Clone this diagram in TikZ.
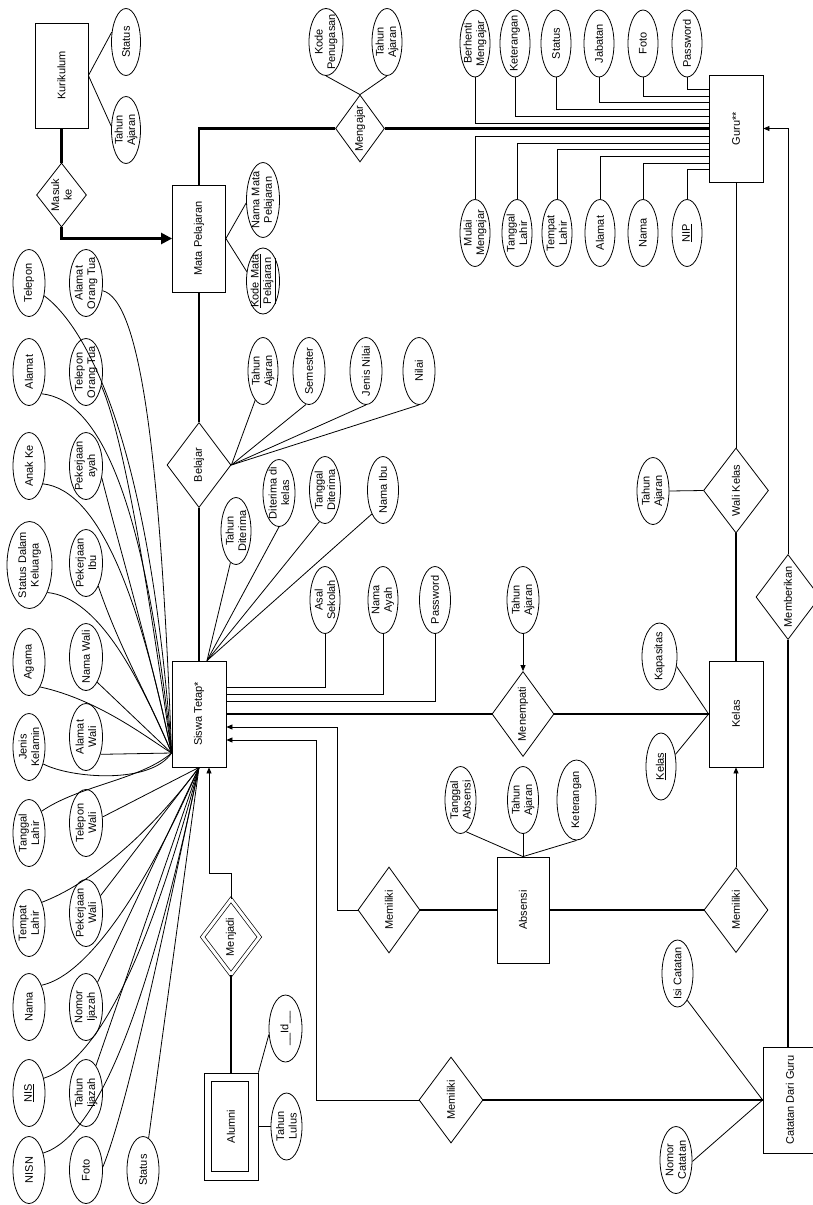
\documentclass[tikz,border=0pt]{standalone}
\usepackage{fontspec}
\newfontfamily\diafont{Liberation Sans}
\usetikzlibrary{shapes.geometric,arrows.meta}
\newcommand\mkatt[4][]{\node[attr,#1] (#2) at (#3) {}; \node[lbl] (#2-t) at (#2.center) {#4};}
\newcommand\mkent[4][]{\node[ent,#1] (#2) at (#3) {}; \node[lbl] (#2-t) at (#2.center) {#4};}
\newcommand\mkrel[4][]{\node[rel,#1] (#2) at (#3) {}; \node[lbl] (#2-t) at (#2.center) {#4};}
\begin{document}
\begin{tikzpicture}[x=1pt,y=-1pt,
  ln/.style={line width=0.8pt},
  thk/.style={line width=2.4pt},
  arr/.style={ln,-{Triangle[length=6pt,width=5pt]}},
  attr/.style={ellipse,draw,line width=0.8pt,minimum width=31pt,minimum height=67pt,inner sep=0pt},
  ent/.style={rectangle,draw,line width=0.8pt,minimum width=54pt,minimum height=106pt,inner sep=0pt},
  rel/.style={diamond,draw,line width=0.8pt,minimum width=64pt,minimum height=85pt,inner sep=0pt},
  lbl/.style={rotate=90,align=center,inner sep=0pt,font=\diafont\fontsize{11}{12.5}\selectfont}]
\fill[white] (0,0) rectangle (812,1205);
\useasboundingbox (0,0) rectangle (812,1205);

% ---------- Kurikulum ----------
\mkent[minimum width=53pt,minimum height=105pt]{kur}{61.5,75.5}{Kurikulum}
\mkatt[minimum width=29pt]{kstat}{126,42}{Status}
\mkatt[minimum width=29pt]{ktah}{126,130}{Tahun\\Ajaran}
\mkrel[minimum width=50pt,minimum height=64pt]{masuk}{61.5,195}{Masuk\\ke}
\mkent[minimum width=53pt,minimum height=107pt]{mapel}{199,238.5}{Mata Pelajaran}
\mkatt[minimum width=33pt,minimum height=75pt]{nmp}{263,200}{Nama Mata\\Pelajaran}
\mkatt[minimum width=33pt,minimum height=66pt]{kmp}{263,281}{\underline{Kode Mata}\\\underline{Pelajaran}}

\draw[ln] (kur.east) -- (kstat.145);
\draw[ln] (kur.east) -- (ktah.165);
\draw[thk] (kur.south) -- (masuk.north);
\draw[thk,-{Triangle[length=11pt,width=11pt]}] (masuk.south) |- (mapel.west);
\draw[ln] (mapel.east) -- (nmp.190);
\draw[ln] (mapel.east) -- (kmp.150);

% ---------- Mengajar / Guru ----------
\mkrel[minimum width=49pt,minimum height=67pt]{mengajar}{360,128.5}{Mengajar}
\mkatt[minimum width=34pt]{kodep}{326,42}{Kode\\Penugasan}
\mkatt[minimum width=30pt]{mtah}{387,42}{Tahun\\Ajaran}
\mkent[minimum height=107pt]{guru}{736,128.5}{Guru**}

\draw[thk] (mapel.north) |- (mengajar.west);
\draw[thk] (mengajar.east) -- (guru.west);
\draw[ln] (mengajar.north) -- (kodep.south);
\draw[ln] (mengajar.north) -- (mtah.south);

\mkatt[minimum width=30pt]{g1}{475,43.5}{Berhenti\\Mengajar}
\mkatt[minimum width=30pt]{g2}{515,43.5}{Keterangan}
\mkatt[minimum width=30pt]{g3}{556,43.5}{Status}
\mkatt[minimum width=30pt]{g4}{599,43.5}{Jabatan}
\mkatt[minimum width=30pt]{g5}{643,43.5}{Foto}
\mkatt[minimum width=30pt]{g6}{687,43.5}{Password}
\mkatt[minimum width=30pt]{g7}{475,233}{Mulai\\Mengajar}
\mkatt[minimum width=30pt]{g8}{517,233}{Tanggal\\Lahir}
\mkatt[minimum width=30pt]{g9}{557,233}{Tempat\\Lahir}
\mkatt[minimum width=30pt]{g10}{600,233}{Alamat}
\mkatt[minimum width=30pt]{g11}{643,233}{Nama}
\mkatt[minimum width=30pt]{g12}{687,233}{\underline{NIP}}

\draw[ln] (g1.south) |- ([yshift=5.5pt]guru.west);
\draw[ln] (g2.south) |- ([yshift=12.5pt]guru.west);
\draw[ln] (g3.south) |- ([yshift=19.5pt]guru.west);
\draw[ln] (g4.south) |- ([yshift=26.5pt]guru.west);
\draw[ln] (g5.south) |- ([yshift=32.5pt]guru.west);
\draw[ln] (g6.south) |- ([yshift=39.5pt]guru.west);
\draw[ln] (g7.north) |- ([yshift=-7.5pt]guru.west);
\draw[ln] (g8.north) |- ([yshift=-14.5pt]guru.west);
\draw[ln] (g9.north) |- ([yshift=-20.5pt]guru.west);
\draw[ln] (g10.north) |- ([yshift=-27.5pt]guru.west);
\draw[ln] (g11.north) |- ([yshift=-34.5pt]guru.west);
\draw[ln] (g12.north) |- ([yshift=-40.5pt]guru.west);

% ---------- Belajar ----------
\mkrel{belajar}{199,465}{Belajar}
\mkatt[minimum width=30pt]{btah}{263,371}{Tahun\\Ajaran}
\mkatt[minimum width=32pt]{bsem}{309,371}{Semester}
\mkatt[minimum width=32pt]{bjn}{366,371}{Jenis Nilai}
\mkatt[minimum width=32pt]{bnil}{419,371}{Nilai}
\draw[thk] (mapel.south) -- (belajar.north);
\draw[ln] (belajar.east) -- (btah.-105);
\draw[ln] (belajar.east) -- (bsem.-95);
\draw[ln] (belajar.east) -- (bjn.south);
\draw[ln] (belajar.east) -- (bnil.south);

% ---------- Siswa Tetap ----------
\mkent{siswa}{199,714}{Siswa Tetap*}
\draw[thk] (belajar.south) -- (siswa.north);
\mkatt[minimum width=30pt]{sthd}{236,531}{Tahun\\Diterima}
\mkatt[minimum width=32pt]{sddk}{279,493}{Diterima di\\kelas}
\mkatt[minimum width=31pt]{stgd}{325,490}{Tanggal\\Diterima}
\mkatt[minimum width=31pt]{snib}{383,490}{Nama Ibu}
\draw[ln] ([xshift=8pt]siswa.north) -- (sthd.-100);
\draw[ln] ([xshift=8pt]siswa.north) -- (sddk.south);
\draw[ln] ([xshift=8pt]siswa.north) -- (stgd.-100);
\draw[ln] ([xshift=8pt]siswa.north) -- (snib.-115);

\mkatt[minimum width=30pt]{sasal}{325,600}{Asal\\Sekolah}
\mkatt[minimum width=30pt]{snay}{383,600}{Nama\\Ayah}
\mkatt[minimum width=31pt]{spwd}{435,600}{Password}
\draw[ln] (sasal.south) |- ([yshift=27pt]siswa.east);
\draw[ln] (snay.south) |- ([yshift=20pt]siswa.east);
\draw[ln] (spwd.south) |- ([yshift=13pt]siswa.east);

% left columns
\mkatt[minimum width=32pt]{tel}{29,283}{Telepon}
\mkatt[minimum width=32pt]{alm}{29,372}{Alamat}
\mkatt[minimum width=32pt]{anak}{29,466}{Anak Ke}
\mkatt[minimum width=45pt,minimum height=87pt]{sdk}{29.5,565}{Status Dalam\\Keluarga}
\mkatt[minimum width=32pt]{aga}{29,662}{Agama}
\mkatt[minimum width=32pt]{jk}{29,747}{Jenis\\Kelamin}
\mkatt[minimum width=32pt]{tgl}{29,833}{Tanggal\\Lahir}
\mkatt[minimum width=32pt]{tmp}{29,923}{Tempat\\Lahir}
\mkatt[minimum width=32pt]{nama}{29,1007}{Nama}
\mkatt[minimum width=32pt]{nis}{29,1093}{\underline{NIS}}
\mkatt[minimum width=32pt]{nisn}{29,1170}{NISN}
\mkatt[minimum width=33pt]{aot}{86,283}{Alamat\\Orang Tua}
\mkatt[minimum width=33pt]{tot}{86,372}{Telepon\\Orang Tua}
\mkatt[minimum width=33pt]{pay}{86,466}{Pekerjaan\\ayah}
\mkatt[minimum width=33pt]{pib}{86,563}{Pekerjaan\\Ibu}
\mkatt[minimum width=33pt]{nwali}{86,657}{Nama Wali}
\mkatt[minimum width=33pt]{awali}{86,737}{Alamat\\Wali}
\mkatt[minimum width=33pt]{twali}{86,823}{Telepon\\Wali}
\mkatt[minimum width=33pt]{pwali}{86,913}{Pekerjaan\\Wali}
\mkatt[minimum width=33pt]{nij}{86,1007}{Nomor\\Ijazah}
\mkatt[minimum width=33pt]{tij}{86,1093}{Tahun\\Ijazah}
\mkatt[minimum width=33pt]{foto}{86,1170}{Foto}
\mkatt[minimum width=32pt]{stat}{143,1170}{Status}

\coordinate (L) at ([yshift=-39pt]siswa.west);
\coordinate (B) at (siswa.south);
\draw[ln] (tel.-40) .. controls (90,330) and (150,450) .. (L);
\draw[ln] (aot.-25) .. controls (140,300) and (160,450) .. (L);
\draw[ln] (alm.-60) .. controls (100,400) and (145,500) .. (L);
\draw[ln] (tot.-42) .. controls (125,440) and (150,600) .. (L);
\draw[ln] (anak.-52) .. controls (100,490) and (140,600) .. (L);
\draw[ln] (pay.-37) .. controls (120,550) and (150,650) .. (L);
\draw[ln] (sdk.-57) .. controls (100,598) and (140,680) .. (L);
\draw[ln] (pib.-62) .. controls (120,650) and (150,700) .. (L);
\draw[ln] (aga.-66) .. controls (100,700) and (150,740) .. (L);
\draw[ln] (nwali.-66) -- (L);
\draw[ln] (awali.-50) -- (L);
\draw[ln] (jk.-50) .. controls (70,778) and (150,785) .. (L);
\draw[ln] (tgl.60) .. controls (80,785) and (140,780) .. (L);
\draw[ln] (twali.20) -- (B);
\draw[ln] (tmp.58) .. controls (100,880) and (160,820) .. (B);
\draw[ln] (pwali.50) -- (B);
\draw[ln] (nama.60) .. controls (90,975) and (150,880) .. (B);
\draw[ln] (nij.65) -- (B);
\draw[ln] (nis.45) .. controls (100,1060) and (150,950) .. (B);
\draw[ln] (tij.70) -- (B);
\draw[ln] (nisn.50) .. controls (100,1135) and (150,1000) .. (B);
\draw[ln] (foto.10) .. controls (130,1100) and (170,900) .. (B);
\draw[ln] (stat.80) -- (B);

% ---------- Menempati / Kelas ----------
\mkrel[minimum width=62pt]{menempati}{523,714}{Menempati}
\mkatt[minimum width=32pt]{mtah2}{523,600}{Tahun\\Ajaran}
\mkent{kelas}{736,714}{Kelas}
\mkatt[minimum width=35pt]{kap}{659.5,656.5}{Kapasitas}
\mkatt[minimum width=30pt]{kkey}{661,766.5}{\underline{Kelas}}
\draw[thk] (siswa.east) -- (menempati.west);
\draw[thk] (menempati.east) -- (kelas.west);
\draw[arr] (mtah2.south) -- (menempati.north);
\draw[ln] (kelas.west) -- (kap.-30);
\draw[ln] (kelas.west) -- (kkey.40);

% ---------- Wali Kelas / Memberikan ----------
\mkrel[minimum width=65pt]{wali}{736,490.5}{Wali Kelas}
\mkatt[minimum width=32pt]{wtah}{653,491}{Tahun\\Ajaran}
\draw[ln] (guru.south) -- (wali.north);
\draw[thk] (wali.south) -- (kelas.north);
\draw[ln] (wtah.east) -- (wali.west);
\mkrel{memb}{788,597}{Memberikan}
\draw[arr] (memb.north) |- (guru.east);

% ---------- Absensi ----------
\mkent[minimum width=52pt]{absen}{523,910}{Absensi}
\mkatt[minimum width=31pt]{atgl}{460.5,800}{Tanggal\\Absensi}
\mkatt[minimum width=31pt]{atah}{523,800}{Tahun\\Ajaran}
\mkatt[minimum width=39pt,minimum height=80pt]{aket}{576.5,800}{Keterangan}
\draw[ln] (absen.north) -- (atgl.-80);
\draw[ln] (absen.north) -- (atah.south);
\draw[ln] (absen.north) -- (aket.south);
\mkrel[minimum width=62pt,minimum height=86pt]{mem1}{389,910}{Memiliki}
\mkrel{mem2}{736,910}{Memiliki}
\draw[thk] (mem1.east) -- (absen.west);
\draw[thk] (absen.east) -- (mem2.west);
\draw[arr] (mem2.north) -- (kelas.south);
\coordinate (c2) at (337,727);
\draw[arr] (mem1.west) -| (c2) -- ([yshift=-13pt]siswa.east);

% ---------- Catatan Dari Guru ----------
\mkent{catatan}{790,1100}{Catatan Dari Guru}
\draw[thk] (memb.south) -- (memb.south |- catatan.north);
\mkatt[minimum width=31pt]{isi}{677.5,973.5}{Isi Catatan}
\mkatt[minimum width=32pt]{nomc}{676,1160}{Nomor\\Catatan}
\draw[ln] (catatan.west) -- (isi.-70);
\draw[ln] (catatan.west) -- (nomc.-5);
\mkrel[minimum height=86pt]{mem3}{451,1100}{Memiliki}
\draw[thk] (mem3.east) -- (catatan.west);
\coordinate (c1) at (316,740);
\draw[arr] (mem3.west) -| (c1) -- ([yshift=-26pt]siswa.east);

% ---------- Menjadi / Alumni ----------
\node[rel,double,double distance=3pt,line width=0.7pt,minimum width=57pt,minimum height=75pt] (menjadi) at (231,937) {};
\node[lbl] (menjadi-t) at (menjadi.center) {Menjadi};
\coordinate (c3) at (209,873);
\draw[arr] (menjadi.north) |- (c3) -- ([xshift=10pt]siswa.south);
\mkent[minimum height=107pt]{alumni}{231,1126.5}{Alumni}
\draw[ln] ([xshift=8pt,yshift=-9pt]alumni.north west) rectangle ([xshift=-10pt,yshift=9pt]alumni.south east);
\draw[thk] (menjadi.south) -- (alumni.north);
\mkatt[minimum width=33pt]{aid}{285.5,1028.5}{\_\_Id\_\_}
\mkatt[minimum width=31pt]{tlulus}{286.5,1126.5}{Tahun\\Lulus}
\draw[ln] (alumni.north east) -- (aid.200);
\draw[ln] (alumni.east) -- (tlulus.west);
\end{tikzpicture}
\end{document}
